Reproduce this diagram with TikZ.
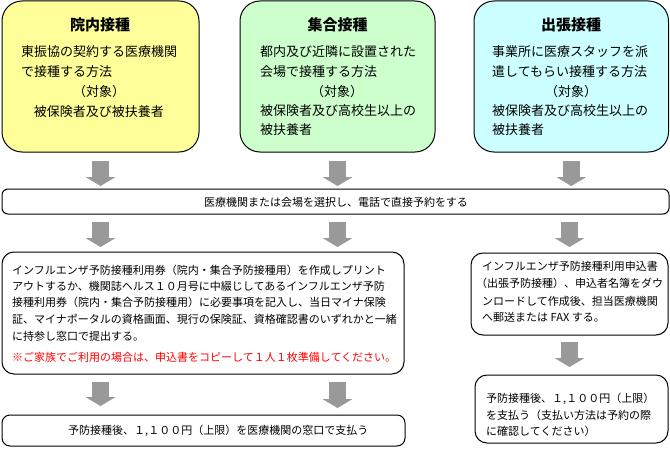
\documentclass[tikz,border=0pt]{standalone}
\usepackage{fontspec}
\setmainfont{Noto Sans CJK JP}
\usetikzlibrary{arrows.meta}
\definecolor{byellow}{RGB}{255,255,153}
\definecolor{bgreen}{RGB}{204,255,204}
\definecolor{bcyan}{RGB}{204,255,255}
\definecolor{agray}{RGB}{153,153,153}
\definecolor{tred}{RGB}{255,0,0}
\begin{document}
\begin{tikzpicture}[x=1pt,y=-1pt,
  box/.style={draw=black, line width=1pt, inner sep=0pt, outer sep=0pt, anchor=north west},
  topbox/.style={box, rounded corners=20pt, minimum height=151pt},
  ttl/.style={font=\fontsize{15pt}{18pt}\selectfont\bfseries, inner sep=0pt, anchor=base},
  tb/.style={font=\fontsize{13pt}{16pt}\selectfont, inner sep=0pt, anchor=base west},
  tbc/.style={tb, anchor=base},
  ts/.style={font=\fontsize{11pt}{14pt}\selectfont, inner sep=0pt, anchor=base west},
  tsc/.style={ts, anchor=base},
  blockarrow/.style={draw=agray, line width=17pt, -{Triangle[width=30pt,length=9pt,line width=0pt]}}
]
\fill[white] (0,0) rectangle (670,460);
\useasboundingbox (0,0) rectangle (670,460);

% top boxes
\node[topbox, fill=byellow, minimum width=197pt] (b1) at (2,1) {};
\node[topbox, fill=bgreen, minimum width=195pt] (b2) at (240,1) {};
\node[topbox, fill=bcyan, minimum width=194.5pt] (b3) at (474,1) {};

\node[ttl] (h1) at (100,31) {院内接種};
\node[tb] (l11) at (21,57) {東振協の契約する医療機関};
\node[tb] (l12) at (21,77) {で接種する方法};
\node[tbc] (l13) at (99,97) {（対象）};
\node[tbc] (l14) at (99,117) {被保険者及び被扶養者};

\node[ttl] (h2) at (337.5,31) {集合接種};
\node[tb] (l21) at (260,57) {都内及び近隣に設置された};
\node[tb] (l22) at (260,76.5) {会場で接種する方法};
\node[tbc] (l23) at (337,96) {（対象）};
\node[tb] (l24) at (260,115.5) {被保険者及び高校生以上の};
\node[tb] (l25) at (260,135) {被扶養者};

\node[ttl] (h3) at (571,31) {出張接種};
\node[tb] (l31) at (492,57) {事業所に医療スタッフを派};
\node[tb] (l32) at (492,76.5) {遣してもらい接種する方法};
\node[tbc] (l33) at (571,96) {（対象）};
\node[tb] (l34) at (492,115.5) {被保険者及び高校生以上の};
\node[tb] (l35) at (492,135) {被扶養者};

% wide box
\node[box, rounded corners=6pt, minimum width=667pt, minimum height=25pt] (wide) at (2,189) {};
\node[tsc] (wt) at (336,206) {医療機関または会場を選択し、電話で直接予約をする};

% big left box
\node[box, rounded corners=12pt, minimum width=402pt, minimum height=122pt] (big) at (2,252) {};
\node[ts] (g1) at (12,274) {インフルエンザ予防接種利用券（院内・集合予防接種用）を作成しプリント};
\node[ts] (g2) at (12,290) {アウトするか、機関誌ヘルス１０月号に中綴じしてあるインフルエンザ予防};
\node[ts] (g3) at (12,306) {接種利用券（院内・集合予防接種用）に必要事項を記入し、当日マイナ保険};
\node[ts] (g4) at (12,323) {証、マイナポータルの資格画面、現行の保険証、資格確認書のいずれかと一緒};
\node[ts] (g5) at (12,340) {に持参し窓口で提出する。};
\node[ts, text=tred] (g6) at (12,361) {※ご家族でご利用の場合は、申込書をコピーして１人１枚準備してください。};

% bottom left box
\node[box, rounded corners=8pt, minimum width=403pt, minimum height=31pt] (pay) at (2,415) {};
\node[ts] (pt) at (68,434) {予防接種後、１,１００円（上限）を医療機関の窓口で支払う};

% right boxes
\node[box, rounded corners=12pt, minimum width=197pt, minimum height=82pt] (r1) at (471,253) {};
\node[ts] (r11) at (482,270) {インフルエンザ予防接種利用申込書};
\node[ts] (r12) at (476,287) {（出張予防接種）、申込者名簿をダウ};
\node[ts] (r13) at (482,305) {ンロードして作成後、担当医療機関};
\node[ts] (r14) at (482,321) {へ郵送または FAX\ する。};

\node[box, rounded corners=12pt, minimum width=193pt, minimum height=68pt] (r2) at (475,375) {};
\node[ts] (r21) at (486,402) {予防接種後、１,１００円（上限）};
\node[ts] (r22) at (486,419) {を支払う（支払い方法は予約の際};
\node[ts] (r23) at (486,435) {に確認してください）};

% arrows
\draw[blockarrow] ([yshift=-9pt]b1.south) -- ([yshift=3pt]b1.south |- wide.north);
\draw[blockarrow] ([yshift=-9pt]b2.south) -- ([yshift=3pt]b2.south |- wide.north);
\draw[blockarrow] ([yshift=-9pt]b3.south) -- ([yshift=3pt]b3.south |- wide.north);

\draw[blockarrow] ([yshift=-8pt]b1.south |- wide.south) -- ([yshift=5pt]b1.south |- big.north);
\draw[blockarrow] ([yshift=-8pt]b2.south |- wide.south) -- ([yshift=5pt]b2.south |- big.north);
\draw[blockarrow] ([yshift=-8pt]r1.north |- wide.south) -- ([yshift=6pt]r1.north);

\draw[blockarrow] ([yshift=-8pt]b1.south |- big.south) -- ([yshift=9pt]b1.south |- pay.north);
\draw[blockarrow] ([yshift=-8pt]b2.south |- big.south) -- ([yshift=7pt]b2.south |- pay.north);
\draw[blockarrow] ([yshift=-7pt]r1.south) -- ([yshift=8pt]r1.south |- r2.north);
\end{tikzpicture}
\end{document}
